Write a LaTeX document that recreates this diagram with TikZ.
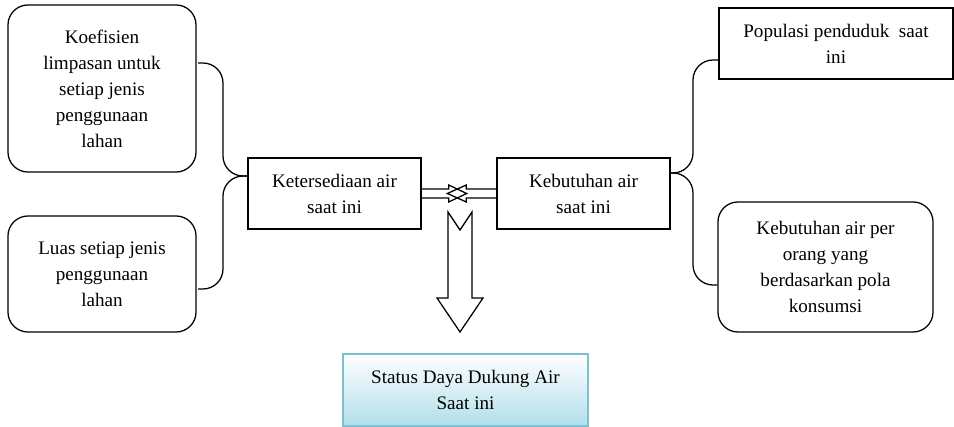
\documentclass[tikz,border=0pt]{standalone}
\usepackage{fontspec}
\setmainfont{Liberation Serif}
\usetikzlibrary{positioning}
\definecolor{statusline}{RGB}{125,192,212}
\definecolor{statusfill}{RGB}{178,222,234}

\begin{document}
\begin{tikzpicture}[x=0.025cm,y=-0.025cm,line width=0.9pt,
every node/.style={font=\fontsize{13.6}{18.5}\selectfont,align=center,inner sep=0pt},
sumber/.style={draw,rounded corners=0.5cm,minimum width=4.7cm},
kotak/.style={draw,minimum width=4.325cm,minimum height=1.775cm},
hasil/.style={draw=statusline,top color=white,bottom color=statusfill,
minimum width=6.125cm,minimum height=1.8cm},
kurung/.style={rounded corners=0.5cm}]
\useasboundingbox (0,0) rectangle (954,427);

\node[sumber,minimum height=4.175cm] (koef) at (102,88.5) {Koefisien\\limpasan untuk\\setiap jenis\\penggunaan\\lahan};
\node[sumber,minimum height=2.9cm] (luas) at (102,274) {Luas setiap jenis\\penggunaan\\lahan};
\node[kotak] (sedia) at (334.5,193.5) {Ketersediaan air\\saat ini};
\node[kotak] (butuh) at (583.5,193.5) {Kebutuhan air\\saat ini};
\node[draw,minimum width=5.85cm,minimum height=1.775cm] (pop) at (836,43.5) {Populasi penduduk~~saat\\ini};
\node[draw,rounded corners=0.5cm,minimum width=5.375cm,minimum height=3.25cm] (orang) at (825.5,267) {Kebutuhan air per\\orang yang\\berdasarkan pola\\konsumsi};
\node[hasil] (status) at (465.5,390) {Status Daya Dukung Air\\Saat ini};

\coordinate (k1) at (198,63);
\coordinate (l1) at (198,289);
\coordinate (lt) at (sedia.west |- 0,176);
\coordinate (p1) at (pop.west |- 0,60);
\coordinate (o1) at (orang.west |- 0,285);
\coordinate (rt) at (butuh.east |- 0,173);

\draw[kurung] (k1) -- (223,63) -- (223,176) -- (lt);
\draw[kurung] (lt) -- (223,176) -- (223,289) -- (l1);
\draw[kurung] (p1) -- (693,60) -- (693,173) -- (rt);
\draw[kurung] (rt) -- (693,173) -- (693,285) -- (o1);

\draw (sedia.east) ++(0,-4.5) -- ++(27,0) -- ++(0,-4) -- ++(18,8.5) -- ++(-18,8.5) -- ++(0,-4) -- ++(-27,0);
\draw (butuh.west) ++(0,-4.5) -- ++(-30,0) -- ++(0,-4) -- ++(-19,8.5) -- ++(19,8.5) -- ++(0,-4) -- ++(30,0);

\coordinate (x) at (460,212);
\draw (x) ++(-12,0) -- ++(12,18) -- ++(12,-18) -- ++(0,86) -- ++(11,0) -- ++(-23,34) -- ++(-23,-34) -- ++(11,0) -- cycle;
\end{tikzpicture}
\end{document}
